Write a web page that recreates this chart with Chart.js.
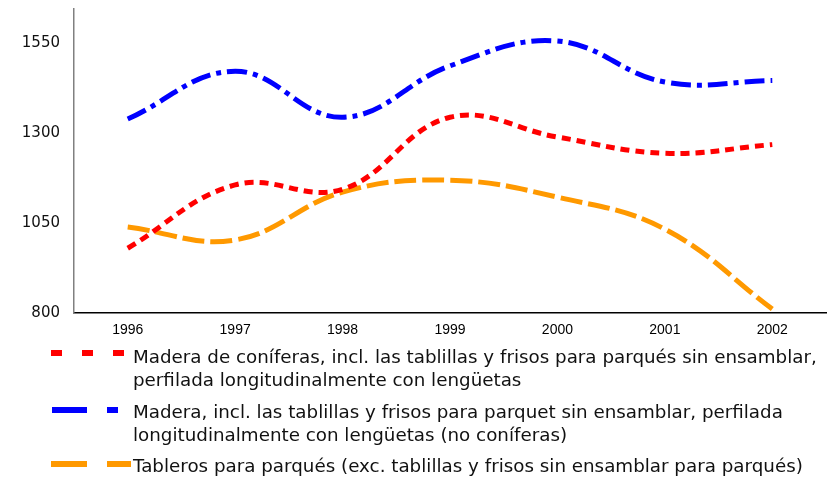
<!DOCTYPE html>
<html>
<head>
<meta charset="utf-8">
<script src="https://cdn.jsdelivr.net/npm/chart.js@4"></script>
<style>
  html, body { margin: 0; padding: 0; background: #fff; }
  #wrap { width: 830px; height: 477px; position: relative; }
</style>
</head>
<body>
<div id="wrap"><canvas id="myChart" width="830" height="477"></canvas></div>
<script>
// años del eje x
var anos = ['1996', '1997', '1998', '1999', '2000', '2001', '2002'];
// valores
var coniferas = [980, 1156, 1144, 1344, 1289, 1244, 1268];
var noConiferas = [1339, 1472, 1344, 1487, 1556, 1442, 1446];
var tableros = [1039, 1003, 1136, 1169, 1122, 1033, 811];
var ticksY = [800, 1050, 1300, 1550];

// textos de la leyenda, ya partidos en líneas
var leyenda1 = ['Madera de coníferas, incl. las tablillas y frisos para parqués sin ensamblar,',
                'perfilada longitudinalmente con lengüetas'];
var leyenda2 = ['Madera, incl. las tablillas y frisos para parquet sin ensamblar, perfilada',
                'longitudinalmente con lengüetas (no coníferas)'];
var leyenda3 = ['Tableros para parqués (exc. tablillas y frisos sin ensamblar para parqués)'];

//leyenda dibujada a mano debajo del gráfico
var leyendaPlugin = {
    id: 'leyenda',
    afterDraw: function(chart) {
        var ctx = chart.ctx;
        var items = [
            { lineas: leyenda1, color: '#ff0000', trozos: [[51, 62], [82, 93], [113, 124]], y: 353, base: 363 },
            { lineas: leyenda2, color: '#0000ff', trozos: [[52, 87], [107, 118]], y: 410, base: 418 },
            { lineas: leyenda3, color: '#ff9900', trozos: [[51, 87], [107, 131]], y: 464, base: 472 }
        ];
        ctx.save();
        items.forEach(function(it) {
            ctx.fillStyle = it.color;
            it.trozos.forEach(function(t) {
                ctx.fillRect(t[0], it.y - 3, t[1] - t[0], 6);
            });
            ctx.fillStyle = '#111';
            ctx.font = '18.3px "DejaVu Sans", Verdana, sans-serif';
            ctx.textBaseline = 'alphabetic';
            it.lineas.forEach(function(t, i) {
                ctx.fillText(t, 133, it.base + i * 23);
            });
        });
        ctx.restore();
    }
};

var ctx = document.getElementById('myChart').getContext('2d');
var myLineChart = new Chart(ctx, {
    type: 'line',
    data: {
        labels: anos,
        datasets: [{
            label: leyenda1.join(' '),
            data: coniferas,
            borderColor: '#ff0000',
            borderDash: [9, 6],
            borderWidth: 5,
            fill: false
        }, {
            label: leyenda2.join(' '),
            data: noConiferas,
            borderColor: '#0000ff',
            borderDash: [20, 6, 5, 6],
            borderWidth: 5,
            fill: false
        }, {
            label: leyenda3.join(' '),
            data: tableros,
            borderColor: '#ff9900',
            borderDash: [22, 6],
            borderWidth: 5,
            fill: false
        }]
    },
    options: {
        responsive: false,
        animation: false,
        tension: 0.4,
        pointRadius: 0,
        pointHoverRadius: 0,
        borderCapStyle: 'butt',
        layout: { padding: { top: 0, right: 4, left: 0, bottom: 0 } },
        plugins: {
            legend: { display: false },
            tooltip: { enabled: false }
        },
        scales: {
            x: {
                offset: true,
                grid: { display: false, drawTicks: false },
                border: { display: true, color: '#000', width: 1.5 },
                ticks: {
                    padding: 9,
                    color: '#000',
                    font: { family: '"Liberation Sans", Arial, sans-serif', size: 14 }
                },
                afterFit: function(s) { s.height = 477 - 313; }
            },
            y: {
                min: 800,
                max: 1645,
                grid: { display: false, drawTicks: true, tickLength: 14 },
                border: { display: true, color: '#808080', width: 1.5 },
                afterBuildTicks: function(s) {
                    s.ticks = ticksY.map(function(v) { return { value: v }; });
                },
                ticks: {
                    padding: 0,
                    color: '#111',
                    font: { family: '"DejaVu Sans", Verdana, sans-serif', size: 15 },
                    callback: function(v) { return String(v); }
                },
                afterFit: function(s) { s.width = 74; }
            }
        }
    },
    plugins: [leyendaPlugin]
});
</script>
</body>
</html>
